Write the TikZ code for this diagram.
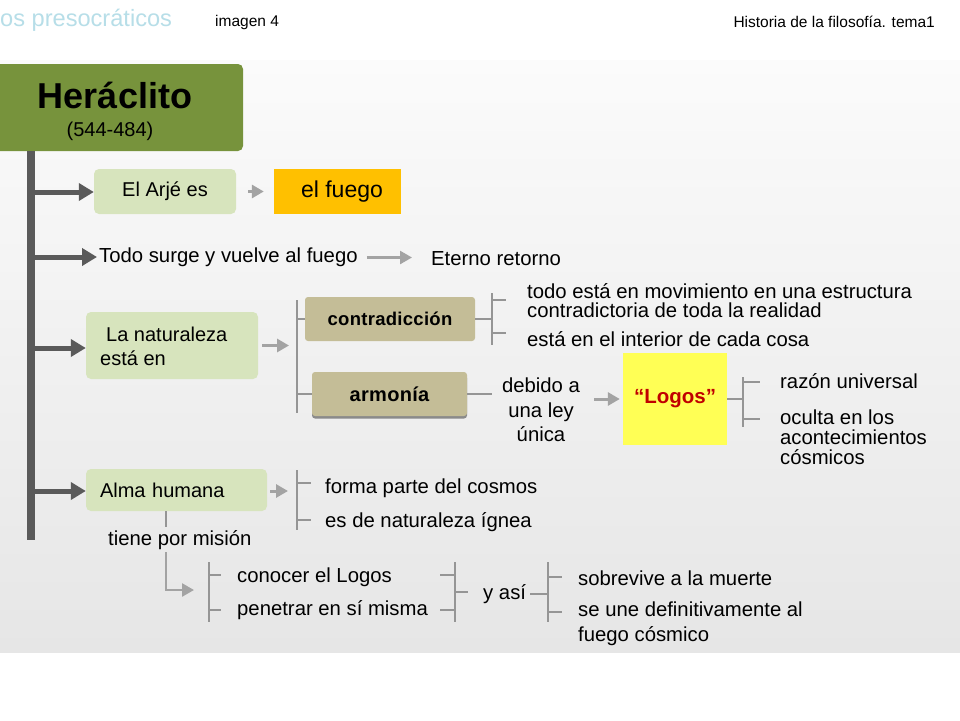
\documentclass[tikz,border=0pt]{standalone}
\usepackage{fontspec}
\setmainfont{Liberation Sans}
\usetikzlibrary{arrows.meta}
\definecolor{titlegreen}{HTML}{77933C}
\definecolor{boxgreen}{HTML}{D7E4BD}
\definecolor{tanfill}{HTML}{C4BD97}
\definecolor{fuegofill}{HTML}{FFC000}
\definecolor{logosfill}{HTML}{FFFF55}
\definecolor{logosred}{HTML}{C00000}
\definecolor{headblue}{HTML}{B7DEE8}
\definecolor{trunkgray}{HTML}{5A5A5A}
\definecolor{arrowgray}{HTML}{A3A3A3}
\definecolor{bracketgray}{HTML}{959595}
\definecolor{shadowgray}{HTML}{8A8A8A}
\definecolor{bgtop}{HTML}{FBFBFB}
\definecolor{bgmid}{HTML}{F2F2F2}
\definecolor{bgbot}{HTML}{E6E6E6}
\begin{document}
\begin{tikzpicture}[x=1pt,y=-1pt,
  darkarrow/.style={draw=trunkgray, line width=5pt, -{Triangle[length=15pt,width=17pt]}},
  grayarrow/.style={draw=arrowgray, line width=3pt, -{Triangle[length=12pt,width=13pt]}},
  brk/.style={draw=bracketgray, line width=2.5pt},
  txt/.style={inner sep=0pt, anchor=west, font=\fontsize{20.3}{19}\selectfont, align=left},
  greenbox/.style={fill=boxgreen, rounded corners=5pt, inner sep=0pt, font=\fontsize{20}{24}\selectfont},
  tanbox/.style={fill=tanfill, rounded corners=3pt, inner sep=0pt, font=\fontsize{18.5}{20}\selectfont\bfseries},
  headtxt/.style={inner sep=0pt, font=\fontsize{15.5}{18}\selectfont}
]
\useasboundingbox (0,0) rectangle (960,720);
\fill[white] (0,0) rectangle (960,720);
\shade[top color=bgtop, middle color=bgmid, bottom color=bgbot] (0,60) rectangle (960,652);

% header
\node[headtxt, anchor=west, text=headblue, font=\fontsize{23.6}{26}\selectfont] (sect) at (0,20) {os presocráticos};
\node[headtxt, anchor=west] (img) at (215,22) {imagen 4};
\node[headtxt, anchor=east] (hist) at (935,22) {Historia de la filosofía. tema1};

% title
\node[fill=titlegreen, rounded corners=5pt, minimum width=253pt, minimum height=87pt, inner sep=0pt] (title) at (116.5,107.5) {};
\node[inner sep=0pt, font=\fontsize{36}{40}\selectfont\bfseries] (name) at (115,95) {Heráclito};
\node[inner sep=0pt, font=\fontsize{20}{22}\selectfont] (dates) at (110,131) {(544-484)};

% trunk
\coordinate (trtop) at (31,151);
\coordinate (trbot) at (31,540);
\draw[draw=trunkgray, line width=8pt] (trtop) -- (trbot);
\coordinate (b1) at (31,192);
\coordinate (b2) at (31,257);
\coordinate (b3) at (31,348);
\coordinate (b4) at (31,491);

% nodes
\node[greenbox, minimum width=142pt, minimum height=45pt] (arje) at (165,191.5) {El Arjé es};
\node[fill=fuegofill, minimum width=127pt, minimum height=45pt, inner sep=0pt, font=\fontsize{23}{26}\selectfont] (fuego) at (337.5,191.5) {\hspace*{9pt}el fuego};
\node[txt] (todo) at (99,257.5) {Todo surge y vuelve al fuego};
\node[txt] (eterno) at (431,259) {Eterno retorno};

\node[greenbox, minimum width=172pt, minimum height=67pt] (nat) at (172,345.5) {};
\node[inner sep=0pt, anchor=west, align=left, font=\fontsize{20}{24}\selectfont] (nattxt) at (100,346) {\hspace*{6pt}La naturaleza\\está en};

\node[tanbox, minimum width=170pt, minimum height=44pt] (contra) at (390,319) {\addfontfeature{LetterSpace=1.5}contradicción};
\fill[shadowgray, rounded corners=3pt] (312,375) rectangle (467,418.5);
\node[tanbox, minimum width=155pt, minimum height=44pt, font=\fontsize{20}{22}\selectfont\bfseries] (armo) at (389.5,394) {\addfontfeature{LetterSpace=1.5}armonía};

\node[txt] (c1) at (527,301) {todo está en movimiento en una estructura\\contradictoria de toda la realidad};
\node[txt] (c2) at (527,339) {está en el interior de cada cosa};

\node[inner sep=0pt, align=center, font=\fontsize{20.3}{24.5}\selectfont] (debido) at (541,410) {debido a\\una ley\\única};
\node[fill=logosfill, minimum width=104pt, minimum height=92pt, inner sep=0pt, text=logosred, font=\fontsize{20.5}{22}\selectfont\bfseries] (logos) at (675,399) {“Logos”};
\node[txt] (razon) at (780,381) {razón universal};
\node[txt, font=\fontsize{20.3}{20}\selectfont] (oculta) at (780,437) {oculta en los\\acontecimientos\\cósmicos};

\node[greenbox, minimum width=181pt, minimum height=42pt, text width=153pt, align=left] (alma) at (176.5,490) {Alma humana};
\node[txt] (forma) at (325,488) {forma parte del cosmos};
\node[txt] (ignea) at (325,522) {es de naturaleza ígnea};
\node[txt] (mision) at (108,540) {tiene por misión};
\node[txt] (conocer) at (237,577) {conocer el Logos};
\node[txt] (penetrar) at (237,610) {penetrar en sí misma};
\node[txt] (yasi) at (483,594) {y así};
\node[txt] (sobre) at (578,578) {sobrevive a la muerte};
\node[txt, font=\fontsize{20.3}{25}\selectfont] (une) at (578,624) {se une definitivamente al\\fuego cósmico};

% trunk branches
\draw[darkarrow] (b1) -- (b1 -| arje.west);
\draw[darkarrow] (b2) -- ([xshift=-2pt]b2 -| todo.west);
\draw[darkarrow] (b3) -- (b3 -| nat.west);
\draw[darkarrow] (b4) -- (b4 -| alma.west);

% gray arrows
\draw[grayarrow, shorten <=12pt, shorten >=10pt] (arje.east) -- (fuego.west);
\draw[grayarrow, line width=2.5pt, shorten <=9pt, shorten >=19pt] (todo.east) -- (todo.east -| eterno.west);

% bracket after naturaleza
\coordinate (k1t) at (297,300);
\coordinate (k1b) at (297,413);
\draw[grayarrow, shorten <=4pt, shorten >=8pt] (nat.east) -- (nat.east -| k1t);
\draw[brk] (k1t) -- (k1b);
\draw[brk] (k1t |- contra.west) -- (contra.west);
\draw[brk] (k1t |- armo.west) -- (armo.west);

% bracket after contradiccion
\coordinate (k2t) at (492,293);
\coordinate (k2b) at (492,345);
\coordinate (k2a) at (506,300);
\coordinate (k2c) at (506,333);
\draw[brk] (contra.east) -- (contra.east -| k2t);
\draw[brk] (k2t) -- (k2b);
\draw[brk] (k2t |- k2a) -- (k2a);
\draw[brk] (k2t |- k2c) -- (k2c);

% armonia -> debido -> logos
\draw[brk, shorten >=10pt] (armo.east) -- (armo.east -| debido.west);
\draw[grayarrow, shorten <=14pt, shorten >=3pt] (debido.east |- logos.west) -- (logos.west);

% bracket after logos
\coordinate (k3t) at (743,377);
\coordinate (k3b) at (743,427);
\coordinate (k3a) at (760,382);
\coordinate (k3c) at (760,419);
\draw[brk] (logos.east) -- (logos.east -| k3t);
\draw[brk] (k3t) -- (k3b);
\draw[brk] (k3t |- k3a) -- (k3a);
\draw[brk] (k3t |- k3c) -- (k3c);

% bracket after alma
\coordinate (k4t) at (297,470);
\coordinate (k4b) at (297,530);
\coordinate (k4a) at (311,483);
\coordinate (k4c) at (311,520);
\draw[grayarrow, shorten <=3pt, shorten >=9pt] (alma.east |- b4) -- (b4 -| k4t);
\draw[brk] (k4t) -- (k4b);
\draw[brk] (k4t |- k4a) -- (k4a);
\draw[brk] (k4t |- k4c) -- (k4c);

% tiene por mision
\coordinate (m1) at (166,511);
\coordinate (m1b) at (166,527);
\coordinate (m2) at (166,552);
\coordinate (m3) at (194,590);
\draw[brk] (m1) -- (m1b);
\draw[grayarrow, line width=2.5pt] (m2) |- (m3);

% bracket 5
\coordinate (k5t) at (209,562);
\coordinate (k5b) at (209,622);
\coordinate (k5a) at (221,575);
\coordinate (k5c) at (221,610);
\draw[brk] (k5t) -- (k5b);
\draw[brk] (k5t |- k5a) -- (k5a);
\draw[brk] (k5t |- k5c) -- (k5c);

% bracket 6
\coordinate (k6t) at (455,562);
\coordinate (k6b) at (455,622);
\coordinate (k6a) at (440,575);
\coordinate (k6c) at (440,610);
\coordinate (k6o) at (468,592);
\draw[brk] (k6t) -- (k6b);
\draw[brk] (k6a) -- (k6t |- k6a);
\draw[brk] (k6c) -- (k6t |- k6c);
\draw[brk] (k6t |- k6o) -- (k6o);

% bracket 7
\coordinate (k7t) at (548,562);
\coordinate (k7b) at (548,622);
\coordinate (k7i) at (530,594);
\coordinate (k7a) at (562,577);
\coordinate (k7c) at (562,612);
\draw[brk] (k7i) -- (k7t |- k7i);
\draw[brk] (k7t) -- (k7b);
\draw[brk] (k7t |- k7a) -- (k7a);
\draw[brk] (k7t |- k7c) -- (k7c);
\end{tikzpicture}
\end{document}
